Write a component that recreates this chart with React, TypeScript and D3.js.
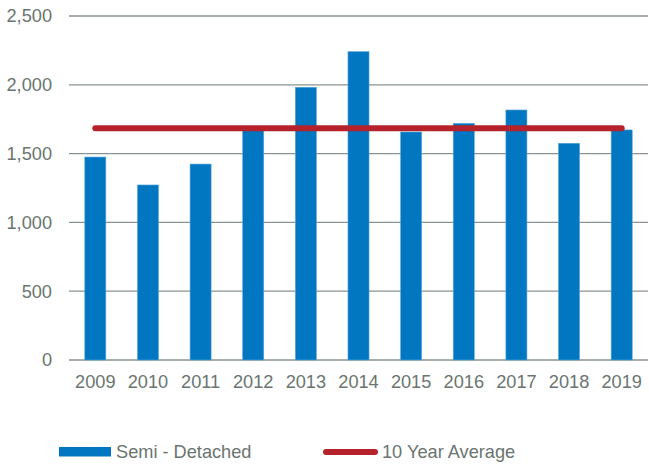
import React from "react";
import * as d3 from "d3";

const years = ["2009","2010","2011","2012","2013","2014","2015","2016","2017","2018","2019"];
const semiDetached = [1475, 1272, 1424, 1680, 1982, 2241, 1657, 1720, 1817, 1575, 1672];
const tenYearAverage = [1684, 1684, 1684, 1684, 1684, 1684, 1684, 1684, 1684, 1684, 1684];
const yTicks = [0, 500, 1000, 1500, 2000, 2500];

const W = 649, H = 464;
const left = 69, right = 648, top = 16, bottom = 360;
const textColor = "#6a7570";
const gridColor = "#8a9490";
const blue = "#0077c0";
const red = "#b5222b";
const font = "'Liberation Sans', Arial, sans-serif";
const fs = 18.2;

export default function App() {
  const x = d3.scaleBand<string>().domain(years).range([left, right]).paddingInner(0.6).paddingOuter(0.3);
  const y = d3.scaleLinear().domain([0, 2500]).range([bottom, top]);
  const line = d3.line<number>()
    .x((_, i) => (x(years[i]) as number) + x.bandwidth() / 2)
    .y((d) => y(d));
  return (
    <svg width={W} height={H} style={{ position: "absolute", left: 0, top: 0, background: "#fff" }}>
      {yTicks.map((t) => (
        <g key={t}>
          <line x1={left} x2={right} y1={y(t)} y2={y(t)} stroke={gridColor} strokeWidth={1.3} />
          <text x={52} y={y(t)} dy="0.35em" textAnchor="end" fontFamily={font} fontSize={fs} fill={textColor}>
            {d3.format(",")(t)}
          </text>
        </g>
      ))}
      {semiDetached.map((v, i) => (
        <rect key={years[i]} x={x(years[i])} y={y(v)} width={x.bandwidth()} height={bottom - y(v)}
          fill={blue} stroke="#5aa8dc" strokeWidth={0.6} />
      ))}
      <path d={line(tenYearAverage) || ""} fill="none" stroke={red} strokeWidth={6} strokeLinecap="round" />
      {years.map((yr) => (
        <text key={yr} x={(x(yr) as number) + x.bandwidth() / 2} y={388} textAnchor="middle"
          fontFamily={font} fontSize={fs} fill={textColor}>{yr}</text>
      ))}
      <rect x={59} y={447} width={52} height={9.5} fill={blue} />
      <text x={116} y={458} fontFamily={font} fontSize={fs} fill={textColor}>Semi - Detached</text>
      <line x1={326} x2={375} y1={452} y2={452} stroke={red} strokeWidth={6} strokeLinecap="round" />
      <text x={382} y={458} fontFamily={font} fontSize={fs} fill={textColor}>10 Year Average</text>
    </svg>
  );
}
